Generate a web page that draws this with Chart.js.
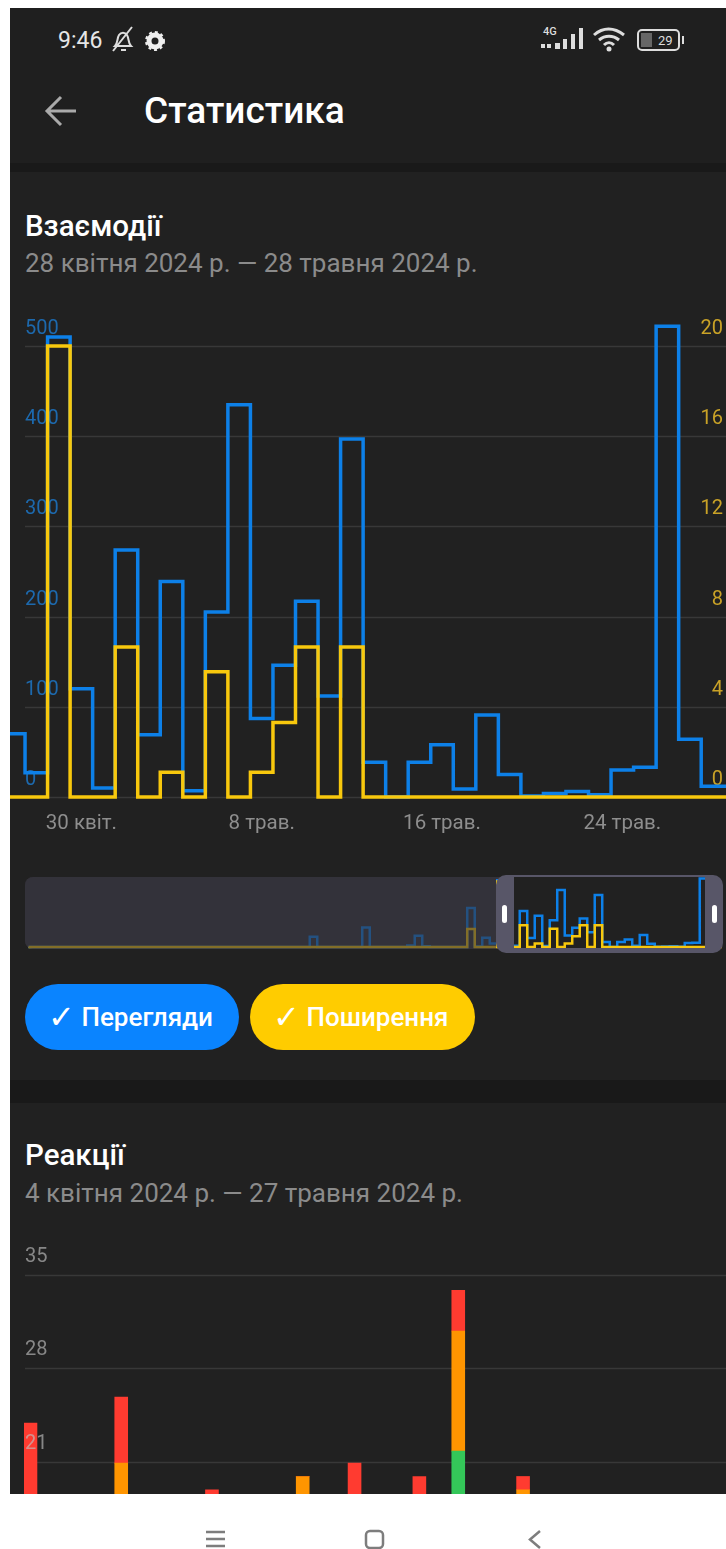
<!DOCTYPE html>
<html lang="uk">
<head>
<meta charset="utf-8">
<title>Статистика</title>
<script src="https://cdn.jsdelivr.net/npm/chart.js@4"></script>
<style>
  html, body { margin: 0; padding: 0; background: #fff; }
  body { width: 726px; height: 1549px; position: relative; overflow: hidden; font-family: Roboto, sans-serif; }
  .abs { position: absolute; }
  #panel { left: 10px; top: 8px; width: 716px; height: 1486px; background: #212121; overflow: hidden; }
  #head { left: 10px; top: 8px; width: 716px; height: 155px; background: #1f1f1f; }
  .band { left: 10px; width: 716px; background: #191919; }
  .txt { white-space: nowrap; line-height: 40px; height: 40px; }
  .h1 { color: #fff; font-size: 37px; font-weight: 500; }
  .h2 { color: #fff; font-size: 29.5px; font-weight: 500; }
  .sub { color: #8b8b8b; font-size: 26px; }
  .pill { height: 66px; top: 984px; border-radius: 33px; color: #fff; font-size: 26px; font-weight: 500; line-height: 66px; white-space: nowrap; box-sizing: border-box; padding-left: 23px; }
  .pill span { font-size: 32px; line-height: 0; vertical-align: -2px; }
  #nav { left: 0; top: 1494px; width: 726px; height: 55px; background: #fff; }
  canvas { position: absolute; }
</style>
</head>
<body>
<div class="abs" id="panel"></div>
<div class="abs" id="head"></div>
<div class="abs band" style="top:163px;height:9px"></div>
<div class="abs band" style="top:1080px;height:23px"></div>

<div class="abs txt" style="left:58px;top:21px;color:#e6e6e6;font-size:23px">9:46</div>
<svg class="abs" style="left:108px;top:24px" width="62" height="32" viewBox="0 0 62 32" fill="none" stroke="#ddd" stroke-width="2">
  <path d="M7 22c3-3 2-8 4-11 2-3 6-3 8 0 2 3 1 8 4 11zM13 26h5M5 27L24 3"/>
  <circle cx="47" cy="17" r="6" stroke-width="5" stroke="#eee"/>
  <circle cx="47" cy="17" r="9" stroke-width="2" stroke="#eee" stroke-dasharray="3 3"/>
</svg>
<div class="abs" style="left:543px;top:24px;width:16px;line-height:16px;color:#ddd;font-size:11px;font-weight:500">4G</div>
<svg class="abs" style="left:538px;top:25px" width="150" height="30" viewBox="0 0 150 30" fill="#ddd">
  <rect x="3" y="19" width="4" height="4"/><rect x="9" y="19" width="4" height="4"/>
  <rect x="17" y="18" width="5" height="6"/><rect x="25" y="14" width="4" height="10"/><rect x="33" y="9" width="4" height="15"/><rect x="41" y="3" width="4" height="21"/>
  <path d="M56 10c9-8 20-8 30 0M61 15c6-5 14-5 20 0M66 20c3-3 7-3 10 0" fill="none" stroke="#ddd" stroke-width="3"/>
  <circle cx="71" cy="24" r="2.5"/>
  <rect x="100" y="5" width="41" height="20" rx="4" fill="none" stroke="#ddd" stroke-width="2"/>
  <rect x="103" y="8" width="11" height="14" fill="#666"/>
  <rect x="144" y="11" width="2" height="8"/>
  <text x="120" y="20" font-size="13" font-family="Roboto">29</text>
</svg>

<svg class="abs" style="left:44px;top:94px" width="34" height="34" viewBox="0 0 34 34" fill="none" stroke="#aaa" stroke-width="3">
  <path d="M32 17H4M17 3L3 17l14 14"/>
</svg>
<div class="abs txt h1" style="left:144px;top:91px">Статистика</div>
<div class="abs txt h2" style="left:25px;top:206px">Взаємодії</div>
<div class="abs txt sub" style="left:25px;top:243px">28 квітня 2024 р. — 28 травня 2024 р.</div>

<canvas id="viewsChart" width="716" height="545" style="left:10px;top:300px"></canvas>

<div class="abs" style="left:25px;top:877px;width:480px;height:72px;background:#34323a;border-radius:8px 0 0 8px"></div>
<canvas id="miniChart" width="697" height="75" style="left:25px;top:875px"></canvas>
<div class="abs" style="left:25px;top:877px;width:471px;height:72px;background:rgba(52,50,58,.6);border-radius:8px 0 0 8px"></div>
<div class="abs" style="left:496px;top:875px;width:227px;height:78px;box-sizing:border-box;border-style:solid;border-color:#585668;border-width:2px 18px 5px 18px;border-radius:10px"></div>
<div class="abs" style="left:502px;top:905px;width:5px;height:18px;border-radius:3px;background:#fff"></div>
<div class="abs" style="left:712px;top:905px;width:5px;height:18px;border-radius:3px;background:#fff"></div>

<div class="abs pill" style="left:25px;width:214px;background:#0a84ff"><span>✓</span> Перегляди</div>
<div class="abs pill" style="left:250px;width:225px;background:#ffcc00"><span>✓</span> Поширення</div>

<div class="abs txt h2" style="left:25px;top:1135px">Реакції</div>
<div class="abs txt sub" style="left:25px;top:1173px">4 квітня 2024 р. — 27 травня 2024 р.</div>

<canvas id="reactionsChart" width="702" height="506" style="left:24px;top:1240px"></canvas>

<div class="abs" id="nav"></div>
<svg class="abs" style="left:200px;top:1526px" width="350" height="23" viewBox="0 0 350 23" fill="none" stroke="#7d7d7d" stroke-width="2.5">
  <path d="M6 6h19M6 13h19M6 20h19"/>
  <rect x="166" y="5" width="17" height="17" rx="4"/>
  <path d="M340 5l-10 8.500 10 8.500"/>
</svg>

<script>
// main chart, one value per day
const days = ['26 квіт.', '27 квіт.', '28 квіт.', '29 квіт.', '30 квіт.', '1 трав.', '2 трав.', '3 трав.', '4 трав.', '5 трав.', '6 трав.', '7 трав.', '8 трав.', '9 трав.', '10 трав.', '11 трав.', '12 трав.', '13 трав.', '14 трав.', '15 трав.', '16 трав.', '17 трав.', '18 трав.', '19 трав.', '20 трав.', '21 трав.', '22 трав.', '23 трав.', '24 трав.', '25 трав.', '26 трав.', '27 трав.', '28 трав.', '29 трав.'];
const views = [70, 70, 27, 510, 120, 10, 274, 69, 239, 7, 205, 435, 87, 146, 217, 112, 397, 38.5, 0, 38.5, 58, 9, 91, 25, 1, 4, 6, 2.5, 30, 33, 522, 64, 12, 12];
const shares = [0, 0, 0, 20, 0, 0, 6.65, 0, 1.1, 0, 5.55, 0, 1.1, 3.3, 6.65, 0, 6.65, 0, 0, 0, 0, 0, 0, 0, 0, 0, 0, 0, 0, 0, 0, 0, 0, 0];
const viewTicks = [0, 100, 200, 300, 400, 500];
const shareTicks = [0, 4, 8, 12, 16, 20];
const dayTicks = [4, 12, 20, 28];

// days before the zoomed window, only seen in the small navigator
const earlierViews = [0, 0, 0, 0, 0, 0, 0, 0, 0, 0, 0, 0, 0, 0, 0, 0, 0, 0, 0, 0, 0, 0, 0, 0, 0, 0, 0, 0, 0, 0, 0, 0, 0, 0, 0, 0, 0, 0, 78, 0, 0, 0, 0, 0, 0, 148, 0, 0, 0, 0, 0, 12, 86, 5, 0, 0, 0, 0, 0, 297, 3];
const earlierShares = [0, 0, 0, 0, 0, 0, 0, 0, 0, 0, 0, 0, 0, 0, 0, 0, 0, 0, 0, 0, 0, 0, 0, 0, 0, 0, 0, 0, 0, 0, 0, 0, 0, 0, 0, 0, 0, 0, 0, 0, 0, 0, 0, 0, 0, 0, 0, 0, 0, 0, 0, 0, 0, 0, 0, 0, 0, 0, 0, 5.5, 0];

// reactions chart
const reactionDays = ['4 квіт.', '5 квіт.', '6 квіт.', '7 квіт.', '8 квіт.', '9 квіт.', '10 квіт.', '11 квіт.', '12 квіт.', '13 квіт.', '14 квіт.', '15 квіт.', '16 квіт.', '17 квіт.', '18 квіт.', '19 квіт.', '20 квіт.', '21 квіт.', '22 квіт.', '23 квіт.', '24 квіт.', '25 квіт.', '26 квіт.', '27 квіт.', '28 квіт.', '29 квіт.', '30 квіт.', '1 трав.', '2 трав.', '3 трав.', '4 трав.', '5 трав.', '6 трав.', '7 трав.', '8 трав.', '9 трав.', '10 трав.', '11 трав.', '12 трав.', '13 трав.', '14 трав.', '15 трав.', '16 трав.', '17 трав.', '18 трав.', '19 трав.', '20 трав.', '21 трав.', '22 трав.', '23 трав.', '24 трав.', '25 трав.', '26 трав.', '27 трав.'];
const reactGreen = [0, 0, 0, 0, 0, 0, 0, 0, 0, 0, 0, 0, 0, 0, 0, 0, 0, 0, 0, 0, 0, 0, 0, 0, 0, 0, 0, 0, 0, 0, 0, 0, 0, 21.8, 0, 0, 0, 0, 0, 0, 0, 0, 0, 0, 0, 0, 0, 0, 0, 0, 0, 0, 0, 0];
const reactOrange = [0, 0, 0, 0, 0, 0, 0, 20.9, 0, 0, 0, 0, 0, 0, 0, 0, 0, 0, 0, 0, 0, 19.9, 0, 0, 0, 0, 0, 0, 0, 0, 0, 0, 0, 9, 0, 0, 0, 0, 18.9, 0, 0, 0, 0, 0, 0, 0, 0, 0, 0, 0, 0, 0, 0, 0];
const reactRed = [23.9, 0, 0, 0, 0, 0, 0, 4.95, 0, 0, 0, 0, 0, 0, 18.9, 0, 0, 0, 0, 0, 0, 0, 0, 0, 0, 20.9, 0, 0, 0, 0, 19.9, 0, 0, 3.05, 0, 0, 0, 0, 1, 0, 0, 0, 0, 0, 0, 0, 0, 0, 0, 0, 0, 0, 0, 0];
const reactionTicks = [0, 7, 14, 21, 28, 35];

const BLUE = '#0d80e8';
const YELLOW = '#f8c80d';
const GRID = '#383838';

// grid lines start at the labels, not at the chart's left edge
const startedGrid = {
    id: 'startedGrid',
    beforeDatasetsDraw(chart, args, opts) {
        const ctx = chart.ctx;
        const scale = chart.scales[opts.scale];
        ctx.save();
        ctx.strokeStyle = GRID;
        ctx.lineWidth = 1.5;
        scale.ticks.forEach(t => {
            const y = Math.round(scale.getPixelForValue(t.value)) + 0.5;
            ctx.beginPath();
            ctx.moveTo(opts.from, y);
            ctx.lineTo(chart.width, y);
            ctx.stroke();
        });
        ctx.restore();
    }
};

function toPoints(values) {
    return values.map((v, i) => ({x: i, y: v}));
}

function stepLine(values, color, axis, width) {
    return {
        data: toPoints(values),
        yAxisID: axis,
        borderColor: color,
        borderWidth: width,
        borderJoinStyle: 'miter',
        stepped: 'middle',
        pointRadius: 0,
        clip: false,
        parsing: false
    };
}

function setTicks(list) {
    return scale => { scale.ticks = list.map(v => ({value: v})); };
}

// the labels sit inside the plot, so the scales must not reserve room for them
function noPadding(scale) {
    scale.paddingLeft = scale.paddingRight = scale.paddingTop = scale.paddingBottom = 0;
    if (!scale.isHorizontal()) scale.width = 0;
}

function renderViewsChart() {
    new Chart(document.getElementById('viewsChart'), {
        type: 'line',
        data: {datasets: [stepLine(shares, YELLOW, 'y2', 3.5), stepLine(views, BLUE, 'y', 3.5)]},
        plugins: [startedGrid],
        options: {
            responsive: false,
            animation: false,
            layout: {padding: {top: 10}},
            plugins: {legend: {display: false}, tooltip: {enabled: false}, startedGrid: {scale: 'y', from: 15}},
            scales: {
                x: {
                    type: 'linear', min: 0.833, max: 32.6,
                    grid: {display: false}, border: {display: false},
                    afterBuildTicks: setTicks(dayTicks),
                    afterFit: s => { noPadding(s); s.height = 48; },
                    ticks: {
                        autoSkip: false, maxRotation: 0, padding: 7, color: '#8e8e8e',
                        font: {family: 'Roboto', size: 20.5},
                        callback: v => days[v]
                    }
                },
                y: {
                    min: 0, max: 540, position: 'left',
                    grid: {display: false, drawTicks: false}, border: {display: false},
                    afterBuildTicks: setTicks(viewTicks),
                    afterFit: noPadding,
                    ticks: {mirror: true, padding: 15, labelOffset: -17, color: '#1d69ad', font: {family: 'Roboto', size: 20}}
                },
                y2: {
                    min: 0, max: 21.6, position: 'right',
                    grid: {display: false, drawTicks: false}, border: {display: false},
                    afterBuildTicks: setTicks(shareTicks),
                    afterFit: noPadding,
                    ticks: {mirror: true, padding: -3, labelOffset: -17, color: '#c9a227', font: {family: 'Roboto', size: 20}}
                }
            }
        }
    });
}

function renderMiniChart() {
    new Chart(document.getElementById('miniChart'), {
        type: 'line',
        data: {datasets: [
            stepLine(earlierShares.concat(shares.slice(1)), YELLOW, 'y2', 2.5),
            stepLine(earlierViews.concat(views.slice(1)), BLUE, 'y', 2.5)
        ]},
        options: {
            responsive: false,
            animation: false,
            layout: {padding: {top: 2, bottom: 3}},
            plugins: {legend: {display: false}, tooltip: {enabled: false}},
            scales: {
                x: {type: 'linear', display: false, min: -0.467, max: 92.47},
                y: {display: false, min: 0, max: 534},
                y2: {display: false, min: 0, max: 21.36}
            }
        }
    });
}

function renderReactionsChart() {
    const stack = (values, color) => ({data: values, backgroundColor: color, barPercentage: 1, categoryPercentage: 1, stack: 'r'});
    new Chart(document.getElementById('reactionsChart'), {
        type: 'bar',
        data: {
            labels: reactionDays,
            datasets: [stack(reactGreen, '#34c759'), stack(reactOrange, '#ff9500'), stack(reactRed, '#ff3b30')]
        },
        plugins: [startedGrid],
        options: {
            responsive: false,
            animation: false,
            layout: {padding: {top: 35, right: 2, bottom: 4}},
            plugins: {legend: {display: false}, tooltip: {enabled: false}, startedGrid: {scale: 'y', from: 1}},
            scales: {
                x: {display: false, stacked: true},
                y: {
                    stacked: true, min: 0, max: 35,
                    grid: {display: false, drawTicks: false}, border: {display: false},
                    afterBuildTicks: setTicks(reactionTicks),
                    afterFit: noPadding,
                    ticks: {z: 1, mirror: true, padding: 1, labelOffset: -18, color: 'rgba(190,190,190,.65)', font: {family: 'Roboto', size: 20}}
                }
            }
        }
    });
}

renderViewsChart();
renderMiniChart();
renderReactionsChart();
</script>
</body>
</html>
